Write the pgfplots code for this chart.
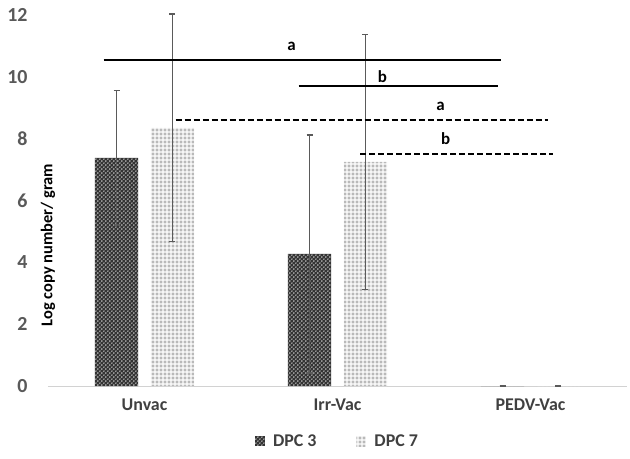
\documentclass[border=0pt]{standalone}
\usepackage{pgfplots}
\pgfplotsset{compat=1.18}
\usepackage{pgfplotstable}
\usetikzlibrary{patterns}
\usepackage{fontspec}
\setmainfont{Carlito}
\definecolor{tickgray}{HTML}{595959}
\definecolor{labgray}{HTML}{404040}
\definecolor{errgray}{HTML}{5A5A5A}

\pgfdeclarepatternformonly{dpcdots}{\pgfqpoint{0pt}{0pt}}{\pgfqpoint{4pt}{4pt}}{\pgfqpoint{4pt}{4pt}}{%
  \pgfpathcircle{\pgfqpoint{1pt}{1pt}}{0.75pt}%
  \pgfpathcircle{\pgfqpoint{3pt}{3pt}}{0.75pt}%
  \pgfusepath{fill}}
\pgfdeclarepatternformonly{dpcsquares}{\pgfqpoint{0pt}{0pt}}{\pgfqpoint{4pt}{4pt}}{\pgfqpoint{4pt}{4pt}}{%
  \pgfpathrectangle{\pgfqpoint{0.6pt}{0.6pt}}{\pgfqpoint{2.8pt}{2.8pt}}%
  \pgfusepath{fill}}

\pgfplotstableread{
x y err
0 7.38 2.17
1 4.27 3.85
2 0 0
}\dpcthree
\pgfplotstableread{
x y err
0 8.35 3.68
1 7.25 4.12
2 0 0
}\dpcseven

\newcommand{\sig}[1]{\fontsize{17}{17}\selectfont\bfseries #1}

\begin{document}
\begin{tikzpicture}
\path[use as bounding box] (-48bp,-73bp) rectangle (582bp,386bp);
\begin{axis}[
  at={(0,0)}, anchor=south west,
  scale only axis, width=579bp, height=371bp,
  ybar,
  xmin=-0.5, xmax=2.5, ymin=0, ymax=12,
  xtick={0,1,2}, xticklabels={Unvac,Irr-Vac,PEDV-Vac},
  ytick={0,2,...,12},
  axis x line*=bottom, axis y line*=left,
  x axis line style={draw=gray!35, line width=0.8bp, -},
  y axis line style={draw=none},
  major tick length=0,
  /pgf/number format/assume math mode=true,
  yticklabel style={font=\fontsize{20}{20}\selectfont\bfseries, text=tickgray, xshift=-17bp},
  xticklabel style={font=\fontsize{18}{18}\selectfont\bfseries, text=labgray, yshift=-9bp},
  ylabel={\fontsize{16.5}{16.5}\selectfont\bfseries Log copy number/ gram},
  ylabel style={at={(axis description cs:0,0.38)}, anchor=center, rotate=0},
  clip=false,
  bar width=0.223,
  legend style={at={(axis description cs:0.5,-0.149)}, anchor=center, draw=none,
    font=\fontsize{18}{18}\selectfont\bfseries, text=labgray, legend columns=2,
    /tikz/every even column/.append style={column sep=38bp}},
  legend image code/.code={\path[#1] (0bp,-5bp) rectangle (10bp,5bp); \path (0bp,0bp) (16bp,0bp);},
]
\addplot[bar shift=-0.145, draw=none, fill=black!80,
  postaction={pattern=dpcdots, pattern color=white},
  error bars/.cd, y dir=both, y explicit,
  error bar style={line width=1.3bp, errgray},
  error mark options={rotate=90, mark size=3bp, line width=1.3bp, errgray}]
  table[x=x, y=y, y error=err] {\dpcthree};
\addlegendentry{DPC 3}
\addplot[bar shift=0.145, draw=none, fill=white,
  postaction={pattern=dpcsquares, pattern color=gray!55},
  error bars/.cd, y dir=both, y explicit,
  error bar style={line width=1.3bp, errgray},
  error mark options={rotate=90, mark size=3bp, line width=1.3bp, errgray}]
  table[x=x, y=y, y error=err] {\dpcseven};
\addlegendentry{DPC 7}

\addplot[sharp plot, black, line width=1.8bp, forget plot] coordinates {(-0.212,10.55) (1.845,10.55)};
\addplot[sharp plot, black, line width=1.8bp, forget plot] coordinates {(0.798,9.71) (1.834,9.71)};
\addplot[sharp plot, black, line width=1.8bp, dash pattern=on 6bp off 3bp, forget plot] coordinates {(0.161,8.61) (2.093,8.61)};
\addplot[sharp plot, black, line width=1.8bp, dash pattern=on 6bp off 3bp, forget plot] coordinates {(1.119,7.51) (2.114,7.51)};

\node at (axis cs:0.762,10.97) {\sig{a}};
\node at (axis cs:1.233,10.0) {\sig{b}};
\node at (axis cs:1.534,9.03) {\sig{a}};
\node at (axis cs:1.56,7.99) {\sig{b}};
\end{axis}
\end{tikzpicture}
\end{document}
